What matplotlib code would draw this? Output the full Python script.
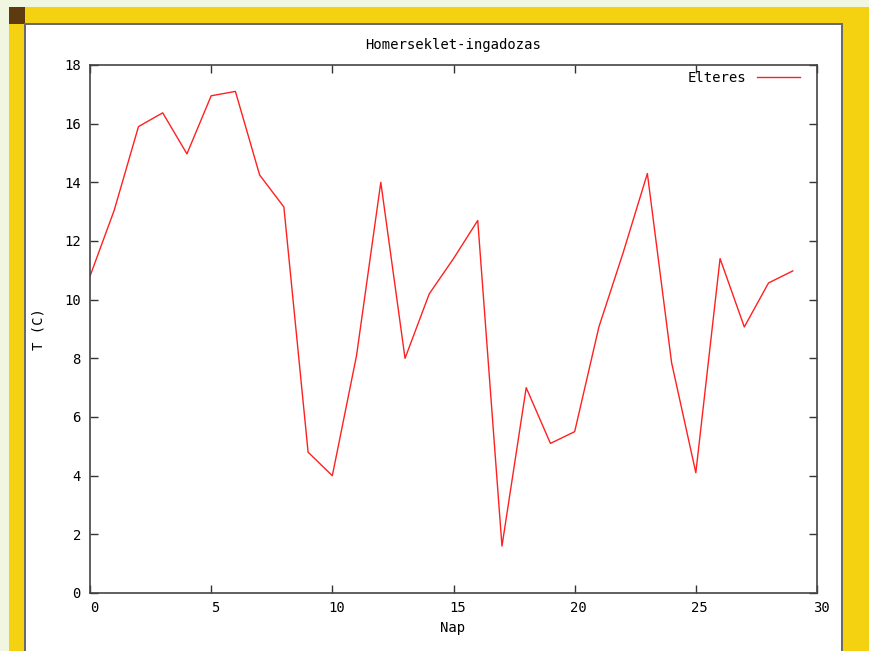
import matplotlib.pyplot as plt
from matplotlib.patches import Rectangle
from matplotlib.transforms import ScaledTranslation

# Adatok
nap = list(range(30))
elteres = [10.8, 13.05, 15.9, 16.37, 14.97, 16.95, 17.1, 14.25, 13.16, 4.8,
           4.0, 8.1, 14.0, 8.0, 10.2, 11.4, 12.7, 1.6, 7.0, 5.1,
           5.5, 9.07, 11.6, 14.3, 7.85, 4.1, 11.4, 9.07, 10.57, 10.98]
x_ticks = [0, 5, 10, 15, 20, 25, 30]
y_ticks = [0, 2, 4, 6, 8, 10, 12, 14, 16, 18]

W, H = 869, 651
fig = plt.figure(figsize=(W / 100, H / 100), dpi=100)
fig.patch.set_facecolor('#f1f6e1')

def px_rect(x0, y0, x1, y1, **kw):
    # pixel coordinates (top-left origin) -> figure fraction
    r = Rectangle((x0 / W, 1 - y1 / H), (x1 - x0) / W, (y1 - y0) / H,
                  transform=fig.transFigure, zorder=-10, **kw)
    fig.patches.append(r)

# keret
px_rect(9, 7, W, H, facecolor='#f4d212', edgecolor='none')
px_rect(9, 7, 25, 24, facecolor='#5e3a10', edgecolor='none')
px_rect(24, 23, 843, H + 2, facecolor='#6a6a6a', edgecolor='none')
px_rect(26, 25, 841, H + 2, facecolor='white', edgecolor='none')

ax = fig.add_axes([90 / W, 1 - 593 / H, (817 - 90) / W, (593 - 65) / H])
ax.set_facecolor('white')
ax.plot(nap, elteres, color='#ff2020', lw=1.0, label='Elteres')

ax.set_xlim(0, 30)
ax.set_ylim(0, 18)
ax.set_xticks(x_ticks)
ax.set_yticks(y_ticks)

mono = 'DejaVu Sans Mono'
fs = 10
ax.tick_params(direction='in', length=6, width=1, top=True, right=True,
               color='#333333')
ax.tick_params(axis='x', pad=5.5)
ax.tick_params(axis='y', pad=6.5)
shift = ScaledTranslation(4 / 100, 0, fig.dpi_scale_trans)
for lab in ax.get_xticklabels():
    lab.set_fontfamily(mono)
    lab.set_fontsize(fs)
    lab.set_transform(lab.get_transform() + shift)
for lab in ax.get_yticklabels():
    lab.set_fontfamily(mono)
    lab.set_fontsize(fs)
for s in ax.spines.values():
    s.set_color('#444444')
    s.set_linewidth(1.2)

ax.set_title('Homerseklet-ingadozas', fontfamily=mono, fontsize=fs,
             y=(593 - 45) / 528, pad=0, va='center')
ax.set_xlabel('Nap', fontfamily=mono, fontsize=fs, va='center')
ax.xaxis.set_label_coords((453 - 90) / 727, (593 - 628) / 528)
ax.set_ylabel('T (C)', fontfamily=mono, fontsize=fs, va='center')
ax.yaxis.set_label_coords((38 - 90) / 727, 0.5)

leg = ax.legend(loc='upper right', frameon=False, markerfirst=False,
                prop={'family': mono, 'size': fs}, handlelength=3.1,
                handletextpad=0.75, borderaxespad=0, borderpad=0,
                bbox_to_anchor=(800 / W, 1 - 71 / H),
                bbox_transform=fig.transFigure)

fig.savefig('out.png', dpi=100, facecolor=fig.get_facecolor())
